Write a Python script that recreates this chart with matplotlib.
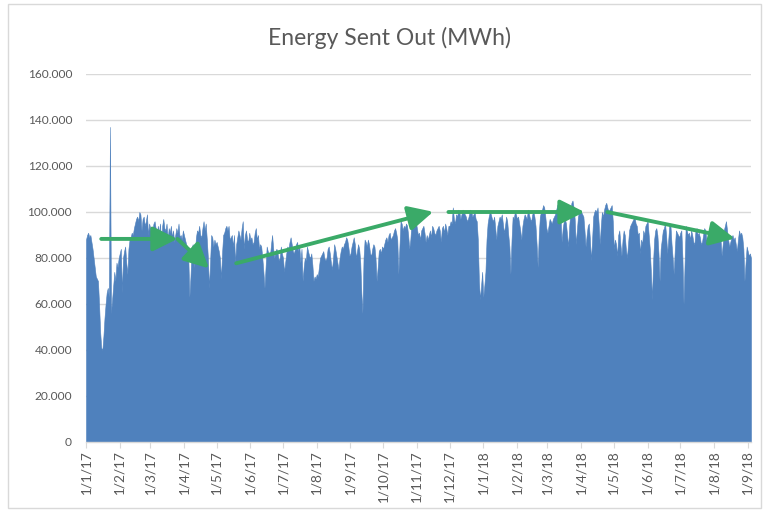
import matplotlib
matplotlib.use("Agg")
import matplotlib.pyplot as plt
import matplotlib.dates as mdates
import matplotlib.patches as mpatches
from matplotlib.ticker import FuncFormatter, MultipleLocator
import pandas as pd
import numpy as np

# Daily energy sent out, thousands of MWh, one list per month
jan17 = [88, 90, 91, 89, 90, 87, 84, 80, 76, 72, 71, 70, 60, 48, 41, 40, 46, 54, 60, 65, 67, 63, 137, 56, 62, 68, 74, 70, 78, 76, 80]
feb17 = [82, 84, 65, 80, 83, 85, 78, 73, 84, 88, 89, 91, 90, 93, 95, 97, 98, 96, 100, 99, 92, 97, 98, 94, 96, 99, 90, 95]
mar17 = [93, 88, 92, 95, 96, 93, 90, 94, 91, 95, 86, 94, 97, 93, 92, 95, 88, 93, 91, 94, 89, 92, 87, 90, 93, 91, 95, 89, 90, 88, 92]
apr17 = [90, 88, 86, 85, 80, 63, 72, 84, 86, 76, 82, 89, 92, 91, 94, 90, 89, 93, 96, 92, 95, 88, 80, 67, 78, 90, 89, 85, 88, 86]
may17 = [87, 85, 83, 80, 71, 82, 90, 91, 93, 94, 92, 94, 88, 89, 90, 85, 90, 78, 86, 89, 92, 90, 88, 93, 96, 84, 90, 92, 88, 87, 91]
jun17 = [88, 89, 86, 87, 91, 93, 88, 90, 84, 86, 85, 80, 74, 67, 76, 85, 83, 82, 81, 86, 90, 84, 80, 83, 84, 82, 79, 80, 85, 82]
jul17 = [80, 74, 78, 82, 85, 84, 87, 89, 86, 83, 82, 84, 86, 87, 83, 85, 78, 84, 70, 76, 80, 79, 85, 83, 81, 80, 82, 77, 70, 72, 71]
aug17 = [73, 72, 76, 80, 81, 82, 83, 80, 79, 80, 84, 85, 82, 78, 75, 80, 86, 84, 81, 78, 75, 80, 83, 85, 84, 86, 87, 89, 88, 85, 81]
sep17 = [82, 85, 87, 89, 86, 80, 83, 86, 84, 78, 65, 56, 80, 88, 87, 85, 88, 86, 82, 81, 84, 86, 85, 80, 70, 76, 83, 84, 82, 85]
oct17 = [84, 86, 88, 89, 87, 90, 91, 88, 89, 90, 92, 93, 91, 88, 73, 85, 96, 95, 92, 94, 93, 95, 94, 90, 84, 88, 95, 96, 94, 97, 96]
nov17 = [93, 90, 91, 88, 92, 93, 94, 91, 87, 90, 88, 90, 92, 89, 94, 93, 91, 90, 92, 93, 94, 92, 87, 93, 94, 91, 95, 93, 90, 94]
dec17 = [94, 96, 95, 102, 97, 95, 99, 98, 101, 100, 97, 99, 101, 100, 99, 98, 96, 97, 99, 101, 100, 98, 99, 100, 97, 96, 88, 70, 62, 68, 74]
jan18 = [63, 68, 74, 88, 95, 98, 100, 99, 97, 96, 98, 93, 88, 94, 96, 98, 97, 99, 95, 91, 94, 98, 96, 90, 85, 73, 88, 98, 97, 100, 99]
feb18 = [97, 98, 95, 92, 88, 94, 97, 99, 98, 97, 101, 99, 97, 96, 99, 100, 98, 94, 86, 76, 90, 98, 100, 101, 103, 102, 98, 93]
mar18 = [91, 94, 97, 96, 95, 97, 98, 99, 101, 103, 104, 100, 98, 87, 93, 96, 97, 95, 90, 85, 94, 100, 104, 105, 102, 97, 86, 92, 98, 100, 101]
apr18 = [100, 99, 98, 92, 85, 90, 94, 95, 88, 79, 88, 98, 100, 101, 100, 102, 95, 86, 94, 100, 98, 101, 103, 104, 102, 100, 101, 102, 103, 96]
may18 = [84, 88, 86, 81, 90, 92, 86, 81, 88, 92, 90, 84, 80, 86, 92, 94, 95, 96, 97, 98, 95, 94, 90, 91, 82, 88, 86, 92, 90, 94, 95]
jun18 = [96, 90, 84, 74, 62, 78, 88, 92, 93, 90, 82, 70, 84, 88, 92, 93, 95, 90, 82, 88, 95, 94, 86, 80, 73, 84, 92, 91, 90, 89]
jul18 = [91, 92, 80, 60, 78, 94, 92, 90, 91, 88, 92, 90, 87, 86, 92, 93, 90, 91, 89, 86, 87, 90, 93, 92, 88, 89, 86, 89, 92, 90, 91]
aug18 = [90, 88, 87, 90, 92, 93, 88, 81, 86, 92, 94, 96, 92, 88, 85, 87, 89, 90, 88, 89, 86, 83, 88, 92, 90, 91, 89, 84, 70, 78, 85]
sep18 = [83, 81, 82, 80]

months = [jan17, feb17, mar17, apr17, may17, jun17, jul17, aug17, sep17, oct17, nov17, dec17,
          jan18, feb18, mar18, apr18, may18, jun18, jul18, aug18, sep18]
values = np.array([v for m in months for v in m], dtype=float)
dates = pd.date_range("2017-01-01", periods=len(values), freq="D")

# Trend arrows (start date, start value, end date, end value), thousands MWh
arrows = [
    ("2017-01-15", 88.3, "2017-03-26", 88.3),
    ("2017-03-26", 88.3, "2017-04-24", 75.5),
    ("2017-05-19", 77.7, "2017-11-16", 100.1),
    ("2017-11-30", 100.0, "2018-04-04", 100.0),
    ("2018-04-25", 100.0, "2018-08-20", 88.5),
]

title = "Energy Sent Out (MWh)"
area_color = "#4F81BD"
arrow_color = "#3AAA68"
grid_color = "#D9D9D9"
text_color = "#595959"

plt.rcParams['font.family'] = ['Lato', 'DejaVu Sans']

fig = plt.figure(figsize=(7.64, 5.12), dpi=100)
ax = fig.add_axes([86/764, 1-442/512, (751-86)/764, (442-74)/512])

ax.fill_between(dates, 0, values, color=area_color, linewidth=0.4, edgecolor=area_color)

ax.set_ylim(0, 160)
ax.set_xlim(dates[0], dates[-1])
ax.yaxis.set_major_locator(MultipleLocator(20))
ax.yaxis.set_major_formatter(FuncFormatter(lambda v, p: "0" if v == 0 else f"{v:.3f}"))
ax.grid(axis='y', color=grid_color, linewidth=1)
ax.set_axisbelow(True)

ax.xaxis.set_major_locator(mdates.MonthLocator())
ax.xaxis.set_major_formatter(FuncFormatter(
    lambda v, p: (lambda d: f"{d.day}/{d.month}/{d.strftime('%y')}")(mdates.num2date(v))))
ax.tick_params(axis='x', rotation=90, labelsize=9.8, colors=text_color, length=4, width=0.8,
               color=grid_color, pad=2)
ax.tick_params(axis='y', labelsize=8.6, colors=text_color, length=0, pad=10)

for s in ['top', 'right', 'left']:
    ax.spines[s].set_visible(False)
ax.spines['bottom'].set_color(grid_color)
ax.spines['bottom'].set_linewidth(1)

for (d0, v0, d1, v1) in arrows:
    ax.annotate("", xy=(mdates.date2num(pd.Timestamp(d1)), v1),
                xytext=(mdates.date2num(pd.Timestamp(d0)), v0),
                arrowprops=dict(arrowstyle="-|>,head_length=1.0,head_width=0.5",
                                color=arrow_color, lw=2.8, shrinkA=0, shrinkB=0,
                                mutation_scale=15),
                zorder=5)

fig.text(389/764, 1-38/512, title, ha='center', va='center', fontsize=16.5, color=text_color)

fig.patches.append(mpatches.Rectangle((8/764, 4/512), 753/764, 504/512, transform=fig.transFigure,
                                      fill=False, edgecolor=grid_color, linewidth=1))

fig.savefig("out.png", dpi=100)
